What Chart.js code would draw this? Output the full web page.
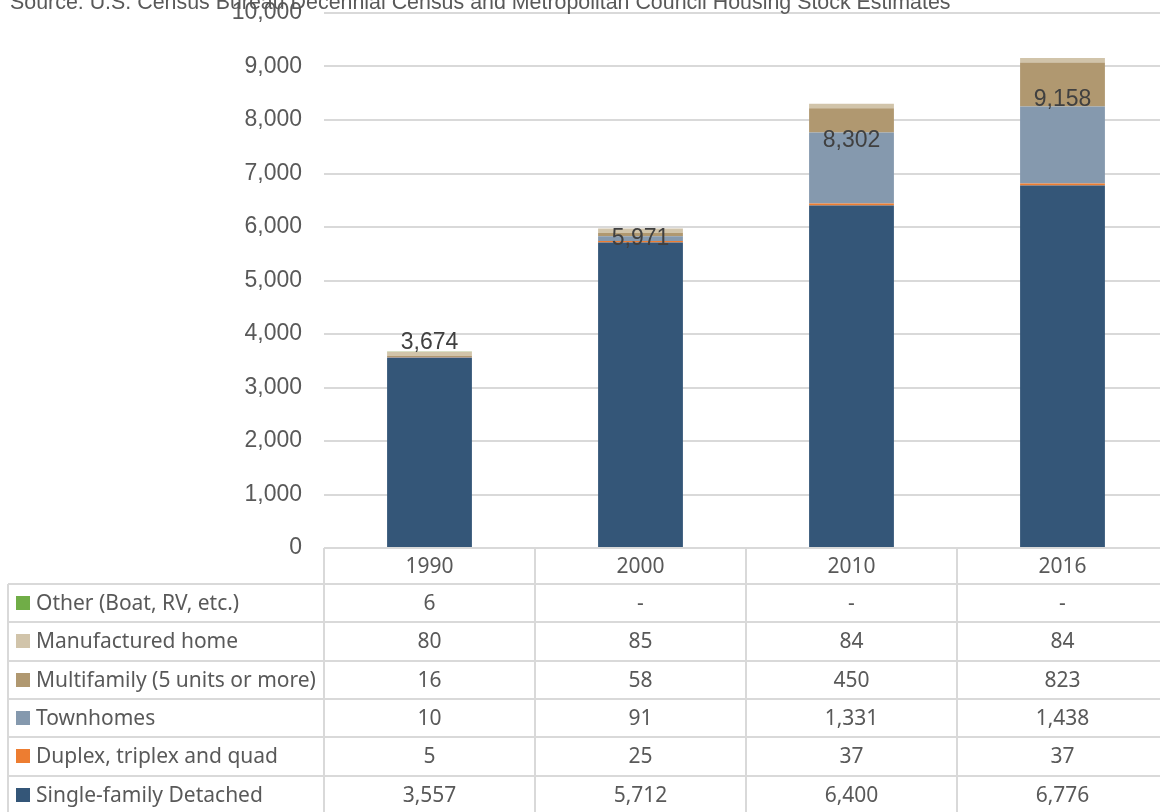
<!DOCTYPE html>
<html><head><meta charset="utf-8">
<script src="https://cdn.jsdelivr.net/npm/chart.js@4"></script>
<style>
html,body{margin:0;padding:0;overflow:hidden;background:#fff;width:1160px;height:812px}
canvas{display:block}
</style></head>
<body><canvas id="c" width="1168" height="812"></canvas>
<script>
// ---------- data ----------
const categories = ['1990', '2000', '2010', '2016'];
const seriesNames = ['Single-family Detached', 'Duplex, triplex and quad', 'Townhomes',
  'Multifamily (5 units or more)', 'Manufactured home', 'Other (Boat, RV, etc.)'];
const singleFamily = [3557, 5712, 6400, 6776];
const duplex = [5, 25, 37, 37];
const townhomes = [10, 91, 1331, 1438];
const multifamily = [16, 58, 450, 823];
const manufactured = [80, 85, 84, 84];
const other = [6, null, null, null];
const yTickValues = [0, 1000, 2000, 3000, 4000, 5000, 6000, 7000, 8000, 9000, 10000];
const sourceNote = 'Source: U.S. Census Bureau Decennial Census and Metropolitan Council Housing Stock Estimates';

// ---------- styles ----------
const colors = ['#345678', '#ED7D31', '#8599AE', '#B09870', '#D1C4AA', '#70AD47'];
const seriesValues = [singleFamily, duplex, townhomes, multifamily, manufactured, other];
const fmt = v => (v === null || v === undefined || v === 0) ? '-' : v.toLocaleString('en-US');
const labelNudge = [-14, 2, 8, -7];

const datasets = seriesValues.map((vals, i) => ({
  label: seriesNames[i],
  data: vals.map(v => v === null ? 0 : v),
  backgroundColor: colors[i],
  borderWidth: 0,
  categoryPercentage: 1,
  barPercentage: 0.402
}));

const sourcePlugin = {
  id: 'sourceNote',
  afterDraw(chart) {
    const ctx = chart.ctx;
    ctx.save();
    ctx.font = '21.4px "Liberation Sans", Arial, sans-serif';
    ctx.fillStyle = '#595959';
    ctx.textAlign = 'left';
    ctx.textBaseline = 'alphabetic';
    ctx.fillText(sourceNote, 10, 9);
    ctx.restore();
  }
};

const totalsPlugin = {
  id: 'totals',
  afterDatasetsDraw(chart) {
    const { ctx, scales: { x, y } } = chart;
    ctx.save();
    ctx.font = '23px "Liberation Sans", Arial, sans-serif';
    ctx.fillStyle = '#404040';
    ctx.textAlign = 'center';
    ctx.textBaseline = 'middle';
    categories.forEach((c, i) => {
      const total = seriesValues.reduce((s, arr) => s + (arr[i] || 0), 0);
      const base = singleFamily[i] + duplex[i] + townhomes[i];
      ctx.fillText(total.toLocaleString('en-US'), x.getPixelForValue(i), y.getPixelForValue(base) + labelNudge[i]);
    });
    ctx.restore();
  }
};

const tablePlugin = {
  id: 'dataTable',
  afterDraw(chart) {
    const { ctx, chartArea, scales: { x } } = chart;
    const n = categories.length;
    const cw = (chartArea.right - chartArea.left) / n;
    const top = chartArea.bottom;
    const headerH = 36, rowH = 38.3, tableLeft = 8;
    const order = [5, 4, 3, 2, 1, 0];
    const bottom = top + headerH + order.length * rowH;
    const right = chartArea.right;
    ctx.save();
    ctx.strokeStyle = '#D9D9D9';
    ctx.lineWidth = 2;
    ctx.beginPath();
    ctx.moveTo(chartArea.left, top); ctx.lineTo(right, top);
    for (let r = 0; r <= order.length; r++) {
      const yy = Math.round(top + headerH + r * rowH);
      ctx.moveTo(tableLeft, yy); ctx.lineTo(right, yy);
    }
    ctx.moveTo(tableLeft, top + headerH); ctx.lineTo(tableLeft, bottom);
    for (let i = 0; i <= n; i++) {
      const xb = Math.round(chartArea.left + i * cw);
      ctx.moveTo(xb, top); ctx.lineTo(xb, bottom);
    }
    ctx.stroke();

    ctx.font = '21px "Noto Sans", "Open Sans", sans-serif';
    ctx.fillStyle = '#595959';
    ctx.textBaseline = 'middle';
    ctx.textAlign = 'center';
    categories.forEach((c, i) => ctx.fillText(c, x.getPixelForValue(i), top + headerH / 2 + 1));
    order.forEach((si, r) => {
      const cy = top + headerH + r * rowH + rowH / 2 + 1;
      ctx.textAlign = 'center';
      ctx.fillStyle = '#595959';
      seriesValues[si].forEach((v, i) => ctx.fillText(fmt(v), x.getPixelForValue(i), cy));
      ctx.fillStyle = colors[si];
      ctx.fillRect(16, Math.round(cy - 8), 14, 14);
      ctx.fillStyle = '#595959';
      ctx.textAlign = 'left';
      ctx.fillText(seriesNames[si], 36, cy);
    });
    ctx.restore();
  }
};

new Chart(document.getElementById('c'), {
  type: 'bar',
  data: { labels: categories, datasets },
  options: {
    responsive: false,
    animation: false,
    devicePixelRatio: 1,
    layout: { padding: { top: 13, right: 0, bottom: 264, left: 0 } },
    plugins: { legend: { display: false }, tooltip: { enabled: false }, title: { display: false } },
    scales: {
      x: { stacked: true, display: false },
      y: {
        stacked: true,
        min: 0, max: 10000,
        afterBuildTicks(scale) { scale.ticks = yTickValues.map(v => ({ value: v })); },
        afterFit(scale) { scale.width = 324; scale.paddingTop = 0; scale.paddingBottom = 0; },
        border: { display: false },
        grid: { color: '#D9D9D9', lineWidth: 2, drawTicks: true, tickLength: 22, tickColor: 'rgba(0,0,0,0)' },
        ticks: {
          padding: 0,
          color: '#595959',
          font: { family: '"Liberation Sans", Arial, sans-serif', size: 23, lineHeight: 1 },
          callback: v => v.toLocaleString('en-US')
        }
      }
    }
  },
  plugins: [tablePlugin, totalsPlugin, sourcePlugin]
});
</script>
</body></html>
